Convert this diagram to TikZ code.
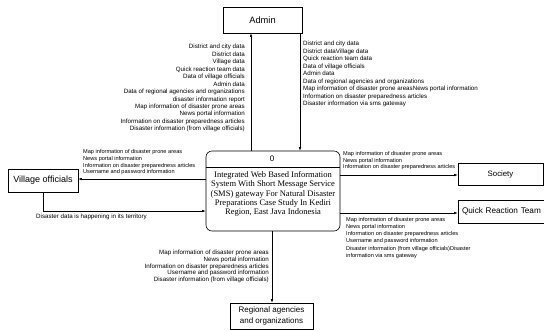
\documentclass[tikz,border=0pt]{standalone}
\usepackage{fontspec}
\setmainfont{Liberation Sans}
\newfontfamily\procfont{Liberation Serif}
\usetikzlibrary{arrows.meta}

\tikzset{
  ent/.style={draw, line width=0.6pt, inner sep=0pt, align=center},
  flow/.style={line width=0.6pt, -{Latex[length=3.5pt,width=2.6pt]}},
  lbl/.style={inner sep=0pt, font=\fontsize{5.6}{#1}\selectfont},
  lbl/.default=7,
  biglbl/.style={inner sep=0pt, font=\fontsize{6.2}{#1}\selectfont},
  biglbl/.default=7.4,
}

\begin{document}
\begin{tikzpicture}[x=1pt,y=-1pt]
\useasboundingbox (0,0) rectangle (544,330);

% external entities
\node[ent, font=\fontsize{9.3}{11}\selectfont, minimum width=79pt, minimum height=26pt] (admin) at (262.5,20) {Admin};
\node[ent, font=\fontsize{9}{11}\selectfont, minimum width=70pt, minimum height=23pt] (village) at (43,180.5) {Village officials};
\node[ent, font=\fontsize{7.8}{10}\selectfont, minimum width=85pt, minimum height=22pt] (society) at (500.5,174) {Society};
\node[ent, font=\fontsize{8.2}{10}\selectfont, minimum width=88pt, minimum height=23pt, text width=86pt, align=left] (qrt) at (502,211.5) {\hspace*{3pt}Quick Reaction Team};
\node[ent, font=\fontsize{8}{10.5}\selectfont, minimum width=83pt, minimum height=26pt] (regional) at (271.5,316) {Regional agencies\\and organizations};

% the process
\node[draw, line width=0.6pt, rounded corners=6pt, minimum width=134pt,
      minimum height=80pt, inner sep=0pt] (proc) at (273,191) {};
\draw[line width=0.6pt] (proc.west |- 0,167) coordinate (dl) -- (proc.east |- 0,167) coordinate (dr);
\node[font=\fontsize{8}{9}\selectfont, inner sep=0pt] (pnum) at (272,159) {0};
\node[font=\procfont\fontsize{8.5}{9.2}\selectfont, align=center, inner sep=0pt] (ptext) at (273,194)
  {Integrated Web Based Information\\System With Short Message Service\\(SMS) gateway For Natural Disaster\\Preparations Case Study In Kediri\\Region, East Java Indonesia};

% data flows
\draw[flow] (proc.north -| 251,0) -- (admin.south -| 251,0);
\draw[flow] (admin.south -| 300,0) -- (proc.north -| 300,0);
\draw[flow] (proc.west |- 0,179) -- (village.east |- 0,179);
\coordinate (vbend) at (43,211);
\draw[flow] (village.south) -- (vbend) -- (proc.west |- vbend);
\draw[flow] (proc.east |- 0,175) -- (society.west |- 0,175);
\draw[flow] (proc.east |- 0,213) -- (qrt.west |- 0,213);
\draw[flow] (proc.south -| 272,0) -- (regional.north -| 272,0);

% flow labels
\node[biglbl=7.45, anchor=north east, align=right] (la) at (245,44.2)
  {District and city data\\District data\\Village data\\Quick reaction team data\\Data of village officials\\Admin data\\Data of regional agencies and organizations\\disaster information report\\Map information of disaster prone areas\\News portal information\\Information on disaster preparedness articles\\Disaster information (from village officials)};
\node[biglbl=7.5, anchor=north west, align=left] (lb) at (303,41.2)
  {District and city data\\District dataVillage data\\Quick reaction team data\\Data of village officials\\Admin data\\Data of regional agencies and organizations\\Map information of disaster prone areasNews portal information\\Information on disaster preparedness articles\\Disaster information via sms gateway};
\node[lbl=6.7, anchor=north west, align=left] (lc) at (83,149.5)
  {Map information of disaster prone areas\\News portal information\\Information on disaster preparedness articles\\Username and password information};
\node[biglbl, anchor=west] (ld) at (36,217) {Disaster data is happening in its territory};
\node[lbl=6.5, anchor=north west, align=left] (le) at (343,151.5)
  {Map information of disaster prone areas\\News portal information\\Information on disaster preparedness articles};
\node[lbl=7.2, anchor=north west, align=left] (lf) at (346,217)
  {Map information of disaster prone areas\\News portal information\\Information on disaster preparedness articles\\Username and password information\\Disaster information (from village officials)Disaster\\information via sms gateway};
\node[biglbl=6.6, anchor=north east, align=right] (lg) at (269,250.2)
  {Map information of disaster prone areas\\News portal information\\Information on disaster preparedness articles\\Username and password information\\Disaster information (from village officials)};
\end{tikzpicture}
\end{document}
